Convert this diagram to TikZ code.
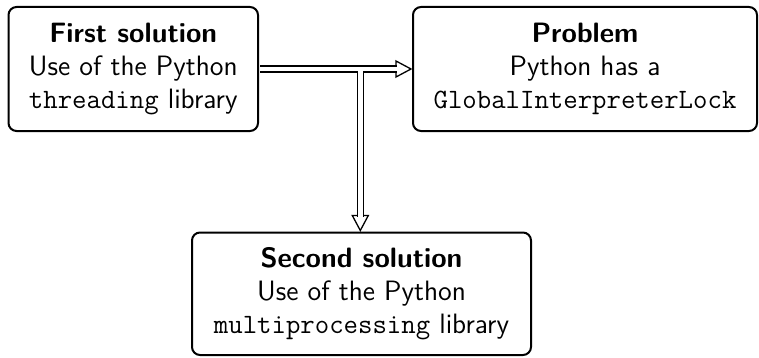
\documentclass[tikz,border=0pt]{standalone}
\usepackage{fontspec}
\usetikzlibrary{calc}
\tikzset{
  box/.style={draw, line width=1pt, rounded corners=4pt, align=center, inner sep=0pt,
    font=\fontsize{14}{16.5}\selectfont\sffamily},
  pipe/.style={draw, line width=0.65pt, double=white, double distance=2.4pt},
  tiphead/.style={draw, line width=0.65pt, fill=white, line join=miter}
}
\begin{document}
\begin{tikzpicture}[x=0.5pt,y=-0.5pt]
\useasboundingbox (0,0) rectangle (759,358);
% the three boxes
\node[box, minimum width=124.75pt, minimum height=62pt] (first) at (133.25,69)
  {\textbf{First solution}\\Use of the Python\\\texttt{threading} library};
\node[box, minimum width=172pt, minimum height=62pt] (problem) at (585,69)
  {\textbf{Problem}\\Python has a\\\texttt{GlobalInterpreterLock}};
\node[box, minimum width=169.5pt, minimum height=61.25pt] (second) at (361.5,293.75)
  {\textbf{Second solution}\\Use of the Python\\\texttt{multiprocessing} library};
% helper points for the double-lined arrows
\coordinate (J) at (360.3,69);
\coordinate (hstart) at ($(first.east)+(1,0)$);
\coordinate (htip) at ($(problem.west)+(-1,0)$);
\coordinate (hbase) at ($(htip)+(-15,0)$);
\coordinate (vtip) at ($(J |- second.north)+(0,-1)$);
\coordinate (vbase) at ($(vtip)+(0,-15)$);
% open heads
\draw[tiphead] (htip) -- ($(hbase)+(0,-8)$) -- ($(hbase)+(0,8)$) -- cycle;
\draw[tiphead] (vtip) -- ($(vbase)+(-8,0)$) -- ($(vbase)+(8,0)$) -- cycle;
% shafts
\draw[pipe] (hstart) -- ($(hbase)+(1,0)$);
\draw[pipe] (J) -- ($(vbase)+(0,1)$);
% open the junction where the branch leaves the main shaft
\draw[white, line width=2.4pt] ($(J)+(-8,0)$) -- ($(J)+(8,0)$);
\end{tikzpicture}
\end{document}
